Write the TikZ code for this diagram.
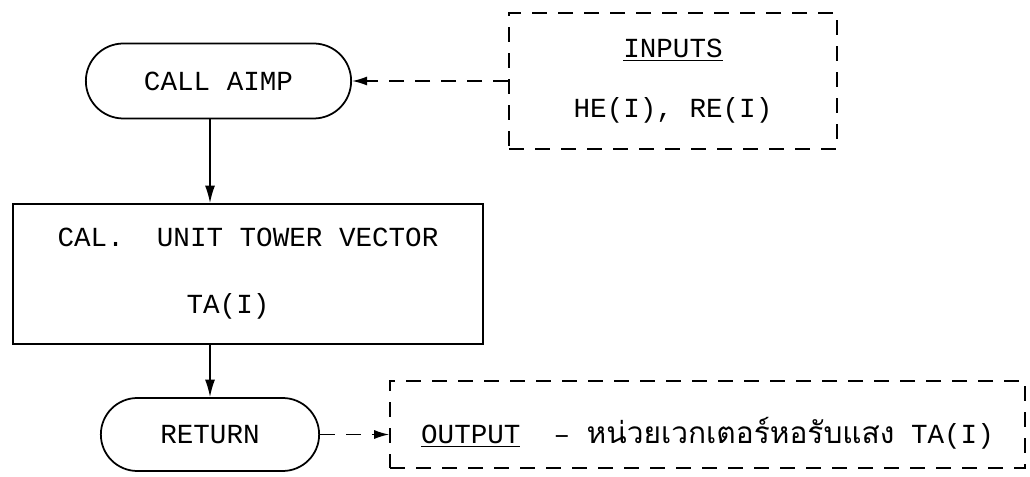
\documentclass[tikz,border=0pt]{standalone}
\usepackage{fontspec}
\setmonofont{Liberation Mono}
\newfontfamily\thaifont[Script=Thai]{Loma}
\usetikzlibrary{positioning,shapes.misc,arrows.meta}

\begin{document}
\begin{tikzpicture}[
        font = \ttfamily\fontsize{15.7}{18}\selectfont,
        term/.style  = {rounded rectangle, draw, line width=1pt, minimum width=#1, minimum height=1.5cm},
        proc/.style  = {rectangle, draw, line width=1pt, minimum width=9.4cm, minimum height=2.8cm, align=center},
        note/.style  = {rectangle, draw, line width=0.9pt, dash pattern=on 0.3cm off 0.22cm, align=center},
        flow/.style  = {-{Latex[length=3.5mm,width=2mm]}, line width=0.9pt},
        link/.style  = {-{Latex[length=3mm,width=1.8mm]}, line width=0.9pt, dash pattern=on 0.3cm off 0.22cm}
    ]
        \useasboundingbox (0,0) rectangle (20.6,9.52);
        \node[term=5.54cm] (call) at (4.37,7.9)  {CALL AIMP};
        \node[proc]        (calc) at (4.96,4.04) {CAL.\ \ UNIT TOWER VECTOR\\[20pt] \hspace*{-0.8cm}TA(I)};
        \node[term=4.6cm, minimum height=1.46cm] (ret) at (4.2,0.83) {RETURN};
        \node[note, minimum width=6.56cm, minimum height=2.72cm] (inp) at (13.46,7.9)
            {\underline{INPUTS}\\[16pt] HE(I), RE(I)};
        \node[note, minimum width=12.7cm, minimum height=1.74cm] (out) at (14.15,1.03)
            {\raisebox{-0.18cm}[\height][\depth]{\underline{OUTPUT}\ \ – {\thaifont\fontsize{17}{20}\selectfont หน่วยเวกเตอร์หอรับแสง} TA(I)}};
        \draw[flow] (call.south -| ret) -- (calc.north -| ret);
        \draw[flow] (calc.south -| ret) -- (ret);
        \draw[link] (inp.west) -- (call.east);
        \draw[link] (ret.east) -- (ret.east -| out.west);
    \end{tikzpicture}
\end{document}
